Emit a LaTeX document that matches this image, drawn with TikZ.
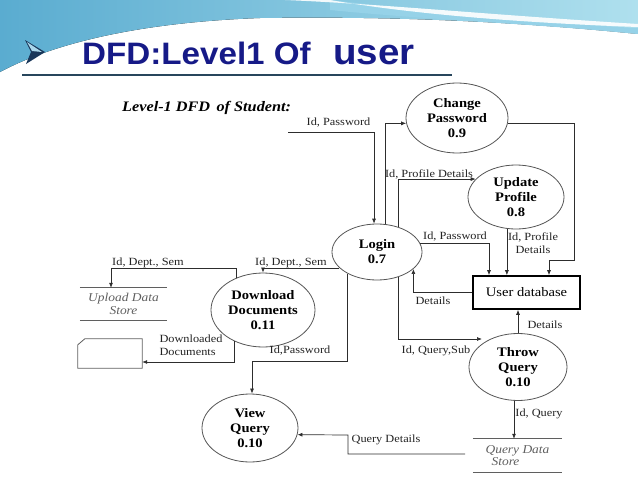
\documentclass[tikz,border=0pt]{standalone}
\usepackage{fontspec}
\setmainfont{Liberation Serif}[FakeStretch=1.12]
\newfontfamily\titlefont{Liberation Sans}[FakeStretch=1.07]
\usetikzlibrary{shapes.geometric,arrows.meta}
\definecolor{titleblue}{RGB}{22,26,135}
\definecolor{ulcolor}{RGB}{40,70,92}
\definecolor{hdrA}{RGB}{90,172,208}
\definecolor{hdrB}{RGB}{175,224,238}
\definecolor{hdrC}{RGB}{150,210,232}
\definecolor{bulletdark}{RGB}{25,55,90}
\definecolor{bulletlight}{RGB}{170,215,235}
\definecolor{procgray}{RGB}{85,85,85}
\definecolor{linegray}{RGB}{45,45,45}
\definecolor{storegray}{RGB}{95,95,95}
\definecolor{labelgray}{RGB}{35,35,35}
\begin{document}
\begin{tikzpicture}[x=1pt,y=-1pt,
  proc/.style={ellipse,draw=procgray,line width=0.8pt,inner sep=0pt,align=center,
    font=\fontsize{13}{15}\selectfont\bfseries,text=black},
  flow/.style={draw=linegray,line width=0.7pt,-{Latex[length=5pt,width=4pt]}},
  lbl/.style={font=\fontsize{11}{12.5}\selectfont,text=labelgray,inner sep=0pt},
  storetext/.style={font=\fontsize{12}{12.5}\selectfont\itshape,text=storegray,inner sep=0pt},
  storeline/.style={draw=storegray,line width=0.8pt}]
\useasboundingbox (0,0) rectangle (638,479);
% header background
\fill[left color=hdrA,right color=hdrB] (0,0) -- (638,0) -- (638,34)
  .. controls (520,22) and (400,16) .. (260,18)
  .. controls (150,22) and (60,40) .. (0,72) -- cycle;
\fill[hdrC] (330,0) .. controls (420,10) and (520,22) .. (638,28) -- (638,34)
  .. controls (540,24) and (430,20) .. (330,10) -- cycle;
\fill[white,opacity=0.9] (285,0) .. controls (380,4) and (480,14) .. (638,24) -- (638,27)
  .. controls (500,22) and (400,12) .. (330,0) -- cycle;
% bullet
\fill[bulletdark] (25,40) -- (45,52) -- (26,64) -- (31,52) -- cycle;
\fill[bulletlight] (27,42) -- (42,52) -- (32,51) -- cycle;
% title
\node[anchor=base west,inner sep=0pt,text=titleblue,font=\titlefont\bfseries\fontsize{31}{31}\selectfont] (T1) at (82,64) {DFD:Level1 Of};
\node[anchor=base west,inner sep=0pt,text=titleblue,font=\titlefont\bfseries\fontsize{36}{36}\selectfont] (T2) at (333,64) {user};
\draw[ulcolor,line width=1.2pt] (22,75) -- (452,75);
% diagram heading
\node[anchor=west,inner sep=0pt,font=\fontsize{14.5}{16}\selectfont\bfseries\itshape] (LT) at (122,108) {Level-1 DFD\, of Student:};
% processes
\node[proc,minimum width=102pt,minimum height=70pt] (CP) at (457,118) {Change\\Password\\0.9};
\node[proc,minimum width=96pt,minimum height=64pt] (UP) at (516,197) {Update\\Profile\\0.8};
\node[proc,minimum width=90pt,minimum height=56pt] (LG) at (377,252) {Login\\0.7};
\node[proc,minimum width=104pt,minimum height=74pt] (DD) at (263,310) {Download\\Documents\\0.11};
\node[proc,minimum width=98pt,minimum height=67pt] (TQ) at (518,367) {Throw\\Query\\0.10};
\node[proc,minimum width=96pt,minimum height=68pt] (VQ) at (250,428) {View\\Query\\0.10};
% user database
\node[draw=black,line width=1.6pt,minimum width=107pt,minimum height=33pt,inner sep=0pt,
  font=\fontsize{13}{15}\selectfont] (DB) at (526.5,292.5) {User database};
% data stores
\node[storetext,align=center,minimum width=87pt,minimum height=32pt] (US) at (123.5,304) {Upload Data\\Store};
\draw[storeline] (US.north west) -- (US.north east) (US.south west) -- (US.south east);
\node[storetext,align=left,minimum width=89pt,minimum height=33pt] (QS) at (517.5,455.5) {Query Data\\\hspace{6pt}Store};
\draw[storeline] (QS.north west) -- (QS.north east) (QS.south west) -- (QS.south east);
% downloaded documents
\node[inner sep=0pt,minimum width=64pt,minimum height=29pt] (DOC) at (110,353.5) {};
\draw[storeline] ([yshift=-6pt]DOC.north west) -- ([xshift=7pt]DOC.north west) -- (DOC.north east)
  -- (DOC.south east) -- (DOC.south west) -- cycle;
% coordinates for free ends and bends
\coordinate (k1) at (288,132);
\coordinate (k2) at (111,268);
\coordinate (k3) at (252,361);
\coordinate (k4) at (465,454);
\coordinate (k5) at (348,435);
\coordinate (k6) at (574,260);
% connectors
\draw[flow] (k1) -| (LG.96);
\draw[flow] (LG.74) |- (CP.186);
\draw[flow] (LG.50) |- (UP.156);
\draw[flow] (LG.12) -| ([xshift=-37.5pt]DB.north);
\draw[flow] (UP.254) -- (UP.254 |- DB.north);
\draw[flow] (CP.354) -| (k6) -| ([xshift=22.5pt]DB.north);
\draw[flow] (DB.west) -| (LG.335);
\draw[flow] (LG.310) |- ([xshift=-36pt,yshift=28pt]TQ.center);
\draw[flow] (TQ.north) -- (TQ.north |- DB.south);
\draw[flow] ([xshift=-4pt]TQ.south) -- ([xshift=-4pt]TQ.south |- QS.north);
\draw[flow] (k4) -| (k5) -- (VQ.352);
\draw[flow] (LG.216) |- (k3) -- (k3 |- VQ.north);
\draw[flow] (LG.203) -| (DD.north);
\draw[flow] (DD.130) |- (k2) -- (k2 |- US.north);
\draw[flow] (DD.227) |- ([yshift=-8.5pt]DOC.east);
% labels
\node[lbl] (l1) at (338.5,123) {Id, Password};
\node[lbl] (l2) at (429,174) {Id, Profile Details};
\node[lbl] (l3) at (455,237) {Id, Password};
\node[lbl,align=center] (l4) at (533,243) {Id, Profile\\Details};
\node[lbl] (l5) at (433,301) {Details};
\node[lbl] (l6) at (436,351) {Id, Query,Sub};
\node[lbl] (l7) at (545,325) {Details};
\node[lbl] (l8) at (539,414) {Id, Query};
\node[lbl] (l9) at (386,440) {Query Details};
\node[lbl] (l10) at (300,351) {Id,Password};
\node[lbl] (l11) at (291,263) {Id, Dept., Sem};
\node[lbl] (l12) at (148,263) {Id, Dept., Sem};
\node[lbl,align=left] (l13) at (191,345) {Downloaded\\Documents};
\end{tikzpicture}
\end{document}
